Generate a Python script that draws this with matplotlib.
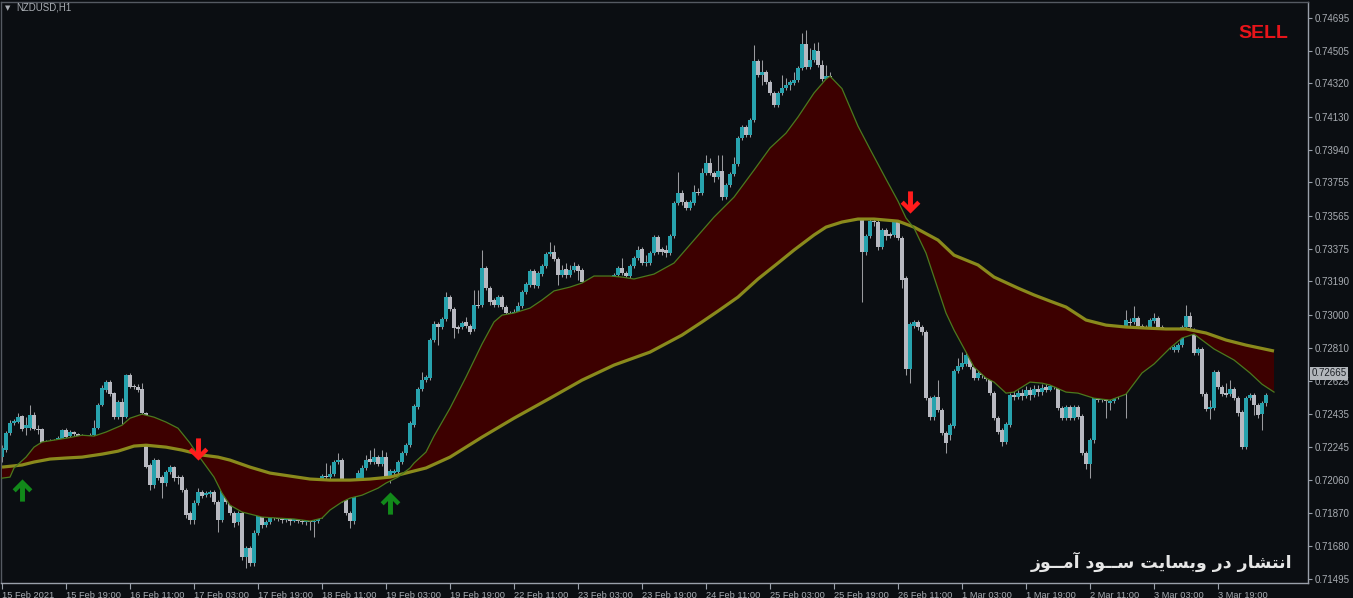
import numpy as np
import matplotlib
matplotlib.use('Agg')
import matplotlib.pyplot as plt
from matplotlib.path import Path
import matplotlib.transforms as mtransforms

# ---------------- data ----------------
symbol = "NZDUSD,H1"
signal_text = "SELL"
watermark = "انتشار در وبسایت ســود آمــوز"
last_price = 0.72665

price_ticks = [0.74695, 0.74505, 0.74320, 0.74130, 0.73940, 0.73755, 0.73565, 0.73375,
               0.73190, 0.73000, 0.72810, 0.72625, 0.72435, 0.72245, 0.72060, 0.71870,
               0.71680, 0.71495]
time_labels = ["15 Feb 2021", "15 Feb 19:00", "16 Feb 11:00", "17 Feb 03:00", "17 Feb 19:00",
               "18 Feb 11:00", "19 Feb 03:00", "19 Feb 19:00", "22 Feb 11:00", "23 Feb 03:00",
               "23 Feb 19:00", "24 Feb 11:00", "25 Feb 03:00", "25 Feb 19:00", "26 Feb 11:00",
               "1 Mar 03:00", "1 Mar 19:00", "2 Mar 11:00", "3 Mar 03:00", "3 Mar 19:00"]
time_label_bars = [0, 16, 32, 48, 64, 80, 96, 112, 128, 144, 160, 176, 192, 208, 224,
                   240, 256, 272, 288, 304]

# candles, in points (1e-5)
open_pts = [
72188,72228,72325,72382,72388,72422,72353,72353,72427,72348,72348,72274,72274,72279,72279,72285,72342,72308,72331,72319,
72302,72308,72296,72313,72353,72484,72570,72616,72553,72416,72502,72416,72656,72593,72587,72576,72439,72143,72029,72171,
72074,72040,72103,72131,72074,72074,72000,71869,71829,71926,71989,71971,71977,71989,71932,71829,71994,71932,71869,71818,
71869,71618,71669,71584,71755,71846,71801,71818,71846,71840,71835,71829,71835,71823,71835,71823,71818,71823,71818,71823,
71857,72080,72074,72091,72160,72171,71943,71869,71823,72029,72068,72126,72177,72160,72188,72148,72188,72074,72097,72103,
72160,72211,72256,72370,72473,72576,72627,72639,72856,72947,72930,72976,73101,73033,72930,72930,72959,72936,72919,73055,
73055,73266,73152,73084,73055,73101,73044,73010,73004,73016,73050,73130,73170,73249,73164,73232,73278,73346,73358,73318,
73227,73261,73227,73255,73278,73255,73187,73164,73181,73158,73175,73192,73170,73198,73227,73266,73238,73221,73278,73323,
73375,73295,73295,73352,73443,73375,73369,73352,73449,73637,73694,73643,73609,73637,73700,73694,73808,73865,73808,73785,
73820,73671,73740,73803,73860,74008,74071,74025,74111,74447,74367,74384,74327,74265,74196,74265,74293,74310,74322,74339,
74407,74544,74413,74453,74504,74424,74344,74361,74282,74168,74202,74053,73911,73951,73740,73569,73358,73449,73534,73529,
73386,73483,73460,73455,73529,73437,73209,72690,72936,72959,72930,72902,72524,72416,72530,72456,72325,72313,72365,72679,
72702,72719,72770,72702,72639,72668,72656,72633,72553,72410,72342,72274,72370,72542,72530,72553,72536,72570,72542,72576,
72559,72587,72570,72593,72587,72467,72410,72473,72410,72473,72422,72211,72148,72285,72524,72513,72524,72496,72507,72536,
72559,72599,72959,72959,72981,72936,72913,72930,72964,72981,72930,72884,72856,72799,72799,72827,72930,72993,72913,72782,
72805,72547,72462,72467,72673,72587,72553,72547,72576,72524,72445,72245,72524,72542,72484,72433,72496]
high_pts = [
72256,72336,72399,72405,72439,72427,72416,72484,72445,72370,72353,72285,72291,72291,72308,72348,72353,72342,72336,72325,
72319,72313,72325,72399,72496,72599,72627,72627,72559,72513,72524,72662,72668,72604,72604,72610,72445,72154,72183,72177,
72086,72114,72143,72137,72086,72086,72011,71880,71943,72011,72000,71994,72000,72000,71943,72017,72006,71943,71880,71880,
71880,71681,71681,71772,71863,71857,71829,71863,71857,71852,71846,71846,71846,71846,71846,71835,71835,71829,71835,71869,
72091,72154,72143,72171,72211,72183,71954,71880,72040,72114,72143,72200,72228,72239,72200,72228,72217,72120,72120,72171,
72222,72268,72393,72490,72587,72673,72656,72867,72964,72959,72987,73130,73113,73044,72941,72964,72987,72947,73141,73141,
73369,73278,73164,73095,73113,73113,73055,73021,73033,73073,73141,73187,73261,73261,73249,73289,73358,73415,73398,73329,
73284,73295,73284,73301,73289,73266,73198,73192,73192,73187,73204,73204,73209,73238,73278,73323,73249,73289,73335,73392,
73386,73340,73363,73455,73455,73386,73398,73460,73648,73814,73711,73654,73654,73740,73723,73837,73911,73894,73820,73911,
73911,73751,73814,73899,74019,74082,74082,74122,74538,74458,74453,74396,74339,74276,74276,74367,74350,74339,74384,74419,
74607,74624,74521,74550,74555,74453,74424,74384,74293,74225,74213,74065,73996,73962,73768,73580,73460,73546,73546,73540,
73495,73495,73472,73540,73540,73449,73221,72959,72970,72970,72941,72913,72536,72542,72627,72467,72336,72382,72690,72753,
72787,72799,72810,72753,72685,72685,72673,72645,72564,72422,72353,72388,72553,72581,72570,72576,72593,72587,72599,72599,
72604,72604,72610,72610,72599,72479,72484,72484,72484,72484,72433,72222,72296,72536,72542,72547,72542,72519,72553,72581,
72627,73027,72981,73050,72993,72947,72941,72981,73010,72993,72941,72896,72867,72827,72839,72941,73055,73016,72924,72816,
72816,72559,72513,72685,72685,72599,72610,72627,72587,72536,72456,72536,72553,72553,72496,72507,72553]
low_pts = [
72160,72217,72313,72370,72382,72336,72313,72342,72342,72319,72251,72256,72262,72262,72268,72279,72291,72296,72308,72296,
72291,72285,72291,72302,72348,72479,72559,72536,72405,72405,72376,72410,72581,72576,72559,72433,72126,72000,72011,72057,
71954,72023,72091,72051,72034,71989,71840,71806,71806,71914,71954,71960,71960,71920,71761,71818,71920,71857,71789,71801,
71601,71555,71567,71567,71744,71784,71789,71806,71829,71823,71812,71818,71801,71818,71812,71806,71801,71772,71732,71812,
71840,72063,72063,72080,72148,71932,71857,71784,71806,72017,72057,72114,72148,72148,72137,72137,72063,72040,72086,72091,
72148,72200,72245,72359,72462,72564,72616,72627,72845,72827,72919,72964,73021,72867,72896,72919,72924,72890,72907,73038,
73044,73141,73055,73044,73044,73033,72998,72993,72993,73004,73038,73118,73158,73152,73152,73221,73266,73335,73306,73170,
73215,73209,73215,73244,73198,73175,73152,73147,73141,73147,73164,73158,73158,73187,73215,73227,73209,73204,73266,73312,
73284,73278,73284,73340,73346,73340,73329,73340,73437,73626,73626,73597,73597,73626,73683,73683,73797,73797,73757,73774,
73654,73660,73728,73791,73848,73996,74014,74014,74099,74356,74310,74316,74253,74185,74185,74253,74282,74282,74310,74327,
74396,74401,74401,74441,74413,74333,74333,74270,74139,74122,74025,73882,73871,73711,73551,73073,73340,73437,73506,73369,
73375,73426,73437,73443,73426,73152,72656,72610,72924,72913,72884,72513,72399,72399,72445,72313,72211,72285,72353,72668,
72690,72707,72690,72627,72627,72639,72622,72542,72399,72319,72251,72262,72359,72513,72519,72513,72524,72513,72530,72536,
72542,72559,72564,72576,72456,72399,72399,72399,72399,72405,72200,72120,72068,72268,72502,72502,72410,72456,72496,72519,
72542,72410,72936,72947,72924,72896,72890,72913,72953,72919,72873,72845,72805,72787,72787,72816,72919,72919,72770,72770,
72536,72450,72405,72456,72576,72536,72530,72536,72513,72422,72234,72234,72513,72427,72410,72342,72479]
close_pts = [
72239,72325,72382,72393,72416,72348,72370,72427,72348,72342,72268,72268,72279,72274,72296,72342,72302,72331,72319,72302,
72308,72296,72313,72353,72484,72581,72616,72547,72416,72502,72416,72656,72587,72587,72570,72439,72131,72029,72171,72068,
72040,72103,72131,72068,72068,72000,71857,71829,71926,71989,71966,71983,71989,71932,71829,72006,71932,71869,71812,71869,
71618,71669,71584,71755,71852,71801,71818,71852,71840,71835,71829,71835,71823,71835,71823,71818,71823,71818,71823,71857,
72080,72074,72091,72160,72171,71943,71869,71823,72029,72097,72126,72171,72160,72188,72148,72188,72074,72108,72108,72160,
72211,72256,72382,72479,72576,72627,72645,72856,72947,72930,72976,73101,73033,72924,72919,72953,72936,72902,73055,73050,
73266,73152,73073,73055,73101,73044,73010,73004,73016,73050,73130,73175,73249,73170,73238,73278,73346,73358,73318,73227,
73255,73227,73255,73278,73249,73187,73164,73181,73158,73175,73192,73170,73198,73227,73266,73238,73221,73278,73323,73369,
73295,73301,73352,73443,73358,73358,73352,73449,73637,73694,73643,73609,73643,73700,73694,73808,73865,73808,73785,73820,
73671,73740,73803,73860,74008,74071,74025,74111,74447,74367,74384,74327,74265,74196,74265,74293,74310,74327,74339,74407,
74544,74413,74453,74510,74424,74344,74361,74282,74168,74202,74053,73911,73951,73740,73569,73358,73449,73534,73529,73386,
73483,73449,73449,73529,73437,73198,72690,72947,72959,72930,72902,72524,72416,72530,72456,72325,72268,72370,72679,72707,
72724,72770,72702,72639,72668,72656,72633,72553,72410,72331,72274,72376,72542,72530,72553,72536,72570,72542,72576,72559,
72581,72570,72593,72587,72467,72410,72473,72410,72473,72416,72211,72148,72285,72524,72513,72524,72507,72507,72536,72559,
72599,72970,72953,72981,72936,72913,72930,72970,72981,72930,72884,72856,72816,72816,72827,72930,72993,72930,72782,72805,
72547,72462,72473,72673,72587,72547,72542,72576,72524,72439,72245,72524,72542,72484,72427,72496,72542]

# moving averages (bar index, points)
slow_bars = [0,5,8,12,16,20,25,29,33,36,41,45,50,54,57,62,67,72,77,82,
             87,92,97,102,106,112,120,128,137,145,153,162,170,175,179,184,189,194,198,203,
             206,210,214,218,224,228,234,238,244,248,254,258,262,266,271,276,281,286,291,296,
             301,306,311,318]
slow_pts = [72131,72143,72160,72177,72183,72188,72205,72222,72251,72256,72245,72228,72200,72188,72171,72131,72097,72080,72063,72057,
            72057,72063,72074,72103,72126,72188,72302,72410,72524,72627,72713,72787,72884,72959,73021,73101,73204,73295,73369,73455,
            73500,73529,73546,73546,73534,73500,73426,73340,73284,73215,73152,73113,73078,73044,72970,72941,72930,72924,72919,72919,
            72896,72856,72827,72793]
fast_bars = [0,2,3,6,8,10,13,16,20,23,26,30,32,35,38,41,44,47,49,51,
             53,55,57,60,65,69,73,77,80,82,85,87,90,94,96,99,102,103,106,108,
             112,116,120,123,125,128,132,135,138,142,145,148,152,155,158,163,168,173,178,183,
             188,192,196,199,203,206,207,210,214,217,221,224,226,228,231,233,236,238,241,243,
             246,248,251,253,257,260,262,266,269,273,277,281,285,288,292,295,298,300,303,308,
             312,315,318]
fast_pts = [72068,72074,72126,72188,72245,72274,72285,72296,72313,72308,72331,72370,72410,72433,72416,72388,72353,72268,72200,72137,
            72074,71983,71914,71875,71846,71840,71835,71823,71840,71886,71932,71954,71971,72011,72040,72074,72126,72154,72217,72308,
            72467,72645,72833,72959,72998,73010,73038,73084,73136,73158,73181,73221,73221,73215,73204,73232,73295,73426,73557,73671,
            73825,73951,74036,74128,74265,74344,74361,74290,74076,73945,73774,73648,73552,73495,73352,73215,73010,72913,72787,72702,
            72639,72616,72553,72559,72616,72610,72599,72559,72553,72524,72513,72547,72668,72719,72810,72867,72890,72856,72805,72742,
            72668,72604,72559]

# crossover signals
signal_bars = [5, 49, 97, 227]
signal_prices = [0.72003, 0.72234, 0.71926, 0.73646]
signal_dirs = ['up', 'down', 'up', 'down']

# ---------------- style ----------------
BG = '#0b0e12'
BULL = '#27a2ad'
BEAR = '#b8b9c1'
WICK = '#9a9a9e'
FILL = '#3d0000'
SLOW = '#8a8a1c'
FAST = '#4b7a1e'
TXT = '#a9adb3'
AXC = '#9aa0aa'

o = np.array(open_pts) / 1e5
h = np.array(high_pts) / 1e5
l = np.array(low_pts) / 1e5
c = np.array(close_pts) / 1e5
idx = np.arange(len(o))

W, H = 1353, 598
fig = plt.figure(figsize=(W / 100, H / 100), dpi=100, facecolor=BG)
ax = fig.add_axes([1 / W, 15 / H, 1307 / W, 581 / H], facecolor=BG)

# candles
up = c > o
top = np.maximum(np.maximum(o, c), h)
bot = np.minimum(np.minimum(o, c), l)
ax.vlines(idx, bot, top, colors=WICK, linewidth=0.75, zorder=2)
body_lo = np.minimum(o, c)
body_h = np.maximum(np.abs(c - o), 0.00005)
ax.bar(idx, body_h, bottom=body_lo, width=0.78, color=np.where(up, BULL, BEAR),
       linewidth=0, zorder=2.5)

# band between fast and slow averages
fb = np.array(fast_bars); fv = np.array(fast_pts) / 1e5
sb = np.array(slow_bars); sv = np.array(slow_pts) / 1e5
ax.fill(np.concatenate([fb, sb[::-1]]), np.concatenate([fv, sv[::-1]]),
        color=FILL, linewidth=0, zorder=3)
ax.plot(sb, sv, color=SLOW, lw=2.3, zorder=4, solid_capstyle='butt', solid_joinstyle='round')
ax.plot(fb, fv, color=FAST, lw=0.9, zorder=4.2)

# arrows
arrow_up = Path([(0, 9), (8, 1), (5.5, -1.5), (2, 2), (2, -9), (-2, -9), (-2, 2),
                 (-5.5, -1.5), (-8, 1), (0, 9)])
arrow_down = Path([(x, -y) for x, y in arrow_up.vertices])
for b, p, d in zip(signal_bars, signal_prices, signal_dirs):
    if d == 'up':
        ax.plot([b], [p], marker=arrow_up, markersize=16, color='#12891a',
                markeredgewidth=0, zorder=6)
    else:
        ax.plot([b], [p], marker=arrow_down, markersize=16, color='#ff1c1c',
                markeredgewidth=0, zorder=6)

# axes limits
ax.set_xlim(-0.25, 326.5)
ax.set_ylim(0.71470, 0.74784)

# y axis on right
ax.yaxis.tick_right()
ax.set_yticks(price_ticks)
ax.set_yticklabels([f"{v:.5f}" for v in price_ticks])
ax.tick_params(axis='y', direction='out', length=3, width=0.8, color=AXC,
               labelsize=7.0, labelcolor=TXT, pad=1.5)
for t in ax.get_yticklabels():
    t.set_fontfamily('Liberation Sans')

ax.set_xticks(time_label_bars)
ax.set_xticklabels(time_labels)
ax.tick_params(axis='x', direction='out', length=4, width=0.8, color=AXC,
               labelsize=6.7, labelcolor=TXT, pad=1.5)
for t in ax.get_xticklabels():
    t.set_horizontalalignment('left')
    t.set_fontfamily('Liberation Sans')

for s in ['left', 'top']:
    ax.spines[s].set_color('#555a62')
    ax.spines[s].set_linewidth(1.0)
for s in ['right', 'bottom']:
    ax.spines[s].set_color(AXC)
    ax.spines[s].set_linewidth(1.0)

# last price box
trans = mtransforms.blended_transform_factory(ax.transAxes, ax.transData)
ax.text(1.0025, last_price, f"{last_price:.5f}", transform=trans, ha='left', va='center',
        fontsize=7.0, family='Liberation Sans', color='#1c2026', zorder=10, clip_on=False,
        bbox=dict(boxstyle='square,pad=0.15', fc='#b3b7bc', ec='none'))

# texts
fig.text(5 / W, 1 - 8.5 / H, '\u25bc', fontsize=5, color=TXT, va='center', ha='left')
fig.text(16 / W, 1 - 8 / H, symbol, fontsize=7.0, family='Liberation Sans', color=TXT,
         va='center', ha='left')
ax.text((1288 - 1) / 1307, (583 - 33) / 581, signal_text, transform=ax.transAxes,
        ha='right', va='center', fontsize=14, fontweight='bold', family='Liberation Sans',
        color='#e8141a', zorder=10)

# Arabic/Persian shaping (presentation forms) for display
_forms = {
    'ا': ('\ufe8d', '\ufe8e', None, None),
    'آ': ('\ufe81', '\ufe82', None, None),
    'ن': ('\ufee5', '\ufee6', '\ufee7', '\ufee8'),
    'ت': ('\ufe95', '\ufe96', '\ufe97', '\ufe98'),
    'ش': ('\ufeb5', '\ufeb6', '\ufeb7', '\ufeb8'),
    'ر': ('\ufead', '\ufeae', None, None),
    'د': ('\ufea9', '\ufeaa', None, None),
    'و': ('\ufeed', '\ufeee', None, None),
    'ب': ('\ufe8f', '\ufe90', '\ufe91', '\ufe92'),
    'س': ('\ufeb1', '\ufeb2', '\ufeb3', '\ufeb4'),
    'ی': ('\ufbfc', '\ufbfd', '\ufef3', '\ufef4'),
    'ي': ('\ufef1', '\ufef2', '\ufef3', '\ufef4'),
    'م': ('\ufee1', '\ufee2', '\ufee3', '\ufee4'),
    'ز': ('\ufeaf', '\ufeb0', None, None),
    '\u0640': ('\u0640', '\u0640', '\u0640', '\u0640'),
}


def shape(text):
    out = []
    for i, ch in enumerate(text):
        f = _forms.get(ch)
        if f is None:
            out.append(ch)
            continue
        prev = text[i - 1] if i > 0 else ''
        nxt = text[i + 1] if i + 1 < len(text) else ''
        jp = prev in _forms and _forms[prev][2] is not None
        jn = f[2] is not None and nxt in _forms
        if jp and jn:
            out.append(f[3])
        elif jp:
            out.append(f[1])
        elif jn:
            out.append(f[2])
        else:
            out.append(f[0])
    return ''.join(reversed(out))


ax.text((1292 - 1) / 1307, (583 - 562) / 581, shape(watermark), transform=ax.transAxes,
        ha='right', va='center', fontsize=12.5, fontweight='bold', family='DejaVu Sans',
        color='#e6e6e6', zorder=10)

fig.savefig('out.png', dpi=100, facecolor=BG)
